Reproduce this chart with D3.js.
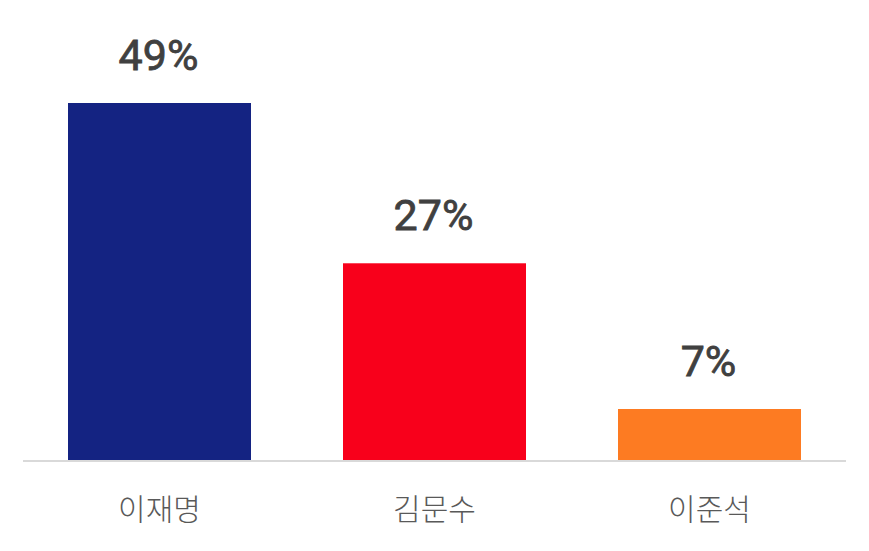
<!DOCTYPE html>
<html><head><meta charset="utf-8">
<script src="https://cdn.jsdelivr.net/npm/d3@7"></script>
<style>html,body{margin:0;padding:0;background:#fff;}</style>
</head><body>
<svg id="chart" width="869" height="551"></svg>
<script>
const categories = ["이재명", "김문수", "이준석"];
const values = [49, 27, 7];
const valueLabels = ["49%", "27%", "7%"];
const colors = ["#142382", "#f8001b", "#fd7b22"];

const svg = d3.select("#chart");
const baseY = 460;

const x = d3.scaleBand().domain(categories).range([22, 847]).paddingInner(92 / 275).paddingOuter(46 / 275);
const y = d3.scaleLinear().domain([0, 49]).range([baseY, 103]);

svg.selectAll("rect.bar").data(categories).join("rect")
  .attr("class", "bar")
  .attr("x", d => x(d))
  .attr("width", x.bandwidth())
  .attr("y", (d, i) => y(values[i]))
  .attr("height", (d, i) => baseY - y(values[i]))
  .attr("fill", (d, i) => colors[i]);

svg.append("line")
  .attr("x1", 23).attr("x2", 846)
  .attr("y1", baseY + 1).attr("y2", baseY + 1)
  .attr("stroke", "#d9d9d9").attr("stroke-width", 2);

svg.selectAll("text.val").data(categories).join("text")
  .attr("class", "val")
  .attr("x", d => x(d) + x.bandwidth() / 2 - 1)
  .attr("y", (d, i) => y(values[i]) - 33)
  .attr("text-anchor", "middle")
  .attr("font-family", "Roboto, sans-serif")
  .attr("font-weight", 400)
  .attr("font-size", 43)
  .attr("fill", "#404040")
  .attr("stroke", "#404040")
  .attr("stroke-width", 0.8)
  .text((d, i) => valueLabels[i]);

svg.selectAll("text.cat").data(categories).join("text")
  .attr("class", "cat")
  .attr("x", d => x(d) + x.bandwidth() / 2)
  .attr("y", 520)
  .attr("text-anchor", "middle")
  .attr("font-family", "'Noto Sans CJK KR', sans-serif")
  .attr("font-weight", 300)
  .attr("font-size", 30)
  .attr("fill", "#595959")
  .text(d => d);
</script>
</body></html>
